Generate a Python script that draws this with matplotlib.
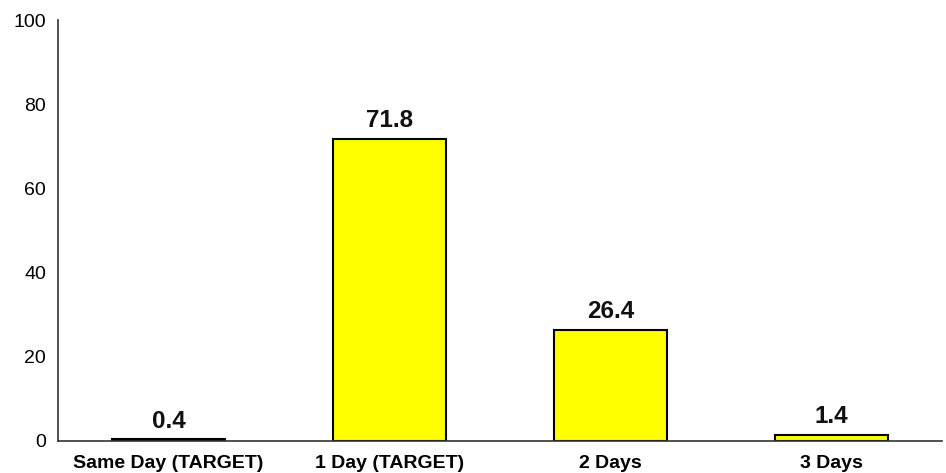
import matplotlib.pyplot as plt

categories = ['Same Day (TARGET)', '1 Day (TARGET)', '2 Days', '3 Days']
values = [0.4, 71.8, 26.4, 1.4]
y_ticks = [0, 20, 40, 60, 80, 100]

plt.rcParams['font.family'] = ['Liberation Sans', 'DejaVu Sans']

fig = plt.figure(figsize=(9.46, 4.73), dpi=100)
ax = fig.add_axes([0.0613, 0.0677, 0.9345, 0.89])

x = range(len(categories))
ax.bar(x, values, width=0.515, color='#ffff00', edgecolor='black', linewidth=1.5)

# value labels sit ~12px above the bar top
for i, v in zip(x, values):
    ax.text(i, v + 2.8, '{0:.1f}'.format(v), ha='center', va='baseline',
            fontsize=17.5, fontweight='bold', color='#111111')

ax.set_xlim(-0.5, 3.5)
ax.set_ylim(0, 100)
ax.set_yticks(y_ticks)
ax.set_xticks(list(x))
ax.set_xticklabels(categories, fontsize=14, fontweight='bold')
ax.tick_params(axis='y', length=0, labelsize=14, pad=8.5)
ax.tick_params(axis='x', length=0, pad=10)

ax.spines['top'].set_visible(False)
ax.spines['right'].set_visible(False)
ax.spines['left'].set_color('#333333')
ax.spines['bottom'].set_color('#333333')
ax.spines['left'].set_linewidth(1.2)
ax.spines['bottom'].set_linewidth(1.2)

plt.savefig('out.png', dpi=100)
